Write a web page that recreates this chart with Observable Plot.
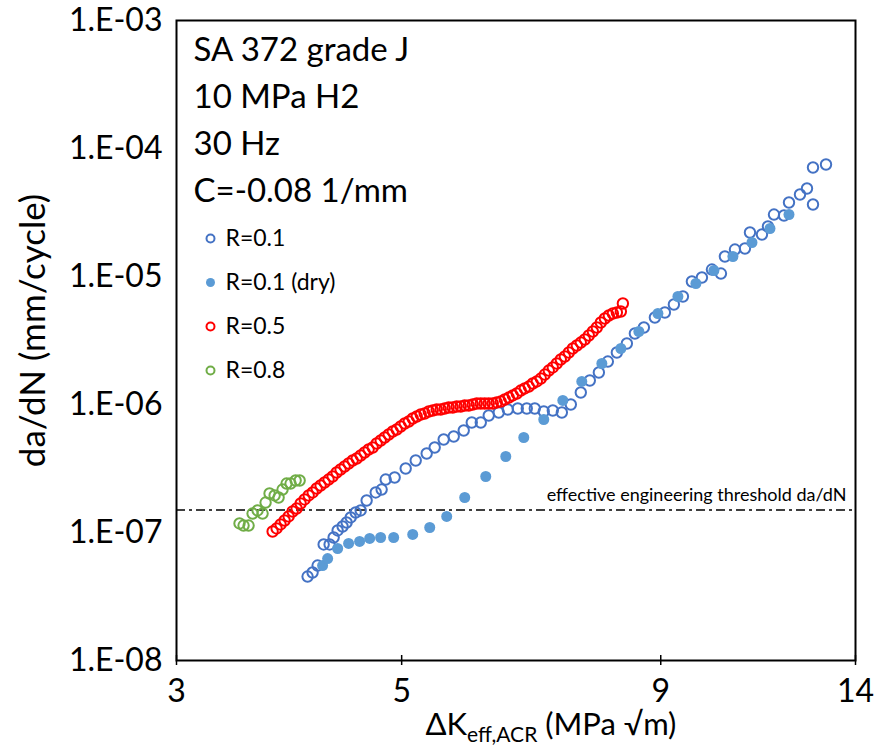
<!DOCTYPE html>
<html><head><meta charset="utf-8">
<script src="https://cdn.jsdelivr.net/npm/d3@7"></script>
<script src="https://cdn.jsdelivr.net/npm/@observablehq/plot@0.6"></script>
<style>body{margin:0;background:#fff;} svg{display:block}</style>
</head><body><div id="chart"></div>
<script>
// Axis ticks
const xTicks = [3, 5, 9, 14];
const yTicks = [1e-8, 1e-7, 1e-6, 1e-5, 1e-4, 1e-3];
const threshold = 1.5e-7;

// R=0.1 (open blue)
const r01K = [4.039,4.085,4.132,4.189,4.246,4.285,4.324,4.373,4.413,4.454,4.504,4.556,4.618,4.714,4.778,4.822,4.921,5.046,5.162,5.292,5.389,5.500,5.627,5.756,5.862,5.983,6.092,6.232,6.361,6.507,6.641,6.763,6.902,7.045,7.191,7.339,7.507,7.662,7.821,7.982,8.147,8.334,8.487,8.662,8.881,9.085,9.272,9.464,9.659,9.881,10.108,10.317,10.410,10.650,10.894,11.019,11.323,11.478,11.636,11.903,12.039,12.343,12.541,12.713,12.713,13.094];
const r01Rate = [4.53e-8,4.87e-8,5.52e-8,8.06e-8,8.06e-8,9.14e-8,1.037e-7,1.114e-7,1.197e-7,1.310e-7,1.433e-7,1.486e-7,1.778e-7,2.054e-7,2.167e-7,2.594e-7,2.690e-7,3.162e-7,3.652e-7,4.142e-7,4.614e-7,5.328e-7,5.623e-7,6.264e-7,7.234e-7,7.234e-7,8.205e-7,8.660e-7,9.140e-7,9.306e-7,9.306e-7,9.306e-7,8.817e-7,8.977e-7,8.660e-7,1.000e-6,1.241e-6,1.540e-6,1.778e-6,2.167e-6,2.548e-6,2.996e-6,3.587e-6,3.995e-6,4.783e-6,5.233e-6,6.043e-6,6.978e-6,9.140e-6,9.822e-6,1.134e-5,1.055e-5,1.433e-5,1.625e-5,1.655e-5,2.207e-5,2.129e-5,2.458e-5,3.050e-5,2.996e-5,3.785e-5,4.371e-5,4.870e-5,3.652e-5,7.105e-5,7.499e-5];

// R=0.1 (dry) (filled blue)
const dryK = [4.179,4.227,4.324,4.433,4.545,4.650,4.767,4.910,5.127,5.329,5.538,5.769,6.051,6.332,6.596,6.902,7.207,7.524,7.874,8.221,8.564,8.942,9.357,9.747,10.154,10.601,11.069,11.531,12.039];
const dryRate = [5.52e-8,6.26e-8,7.50e-8,8.21e-8,8.51e-8,8.98e-8,9.14e-8,9.14e-8,9.65e-8,1.094e-7,1.334e-7,1.877e-7,2.738e-7,3.924e-7,5.523e-7,7.635e-7,1.075e-6,1.513e-6,2.091e-6,2.738e-6,3.718e-6,5.140e-6,6.978e-6,8.817e-6,1.114e-5,1.433e-5,1.843e-5,2.371e-5,3.050e-5];

// R=0.5 (open red)
const r05K = [3.731,3.765,3.799,3.834,3.869,3.904,3.940,3.976,4.012,4.049,4.086,4.123,4.160,4.198,4.236,4.275,4.314,4.353,4.393,4.433,4.474,4.515,4.556,4.597,4.639,4.682,4.724,4.768,4.811,4.855,4.900,4.944,4.989,5.035,5.081,5.127,5.174,5.221,5.268,5.317,5.365,5.414,5.463,5.513,5.563,5.614,5.665,5.717,5.769,5.822,5.875,5.929,5.983,6.037,6.092,6.148,6.204,6.261,6.318,6.376,6.434,6.492,6.551,6.611,6.672,6.732,6.794,6.856,6.918,6.981,7.045,7.109,7.174,7.240,7.306,7.372,7.440,7.507,7.576,7.645,7.715,7.785,7.856,7.928,8.000,8.073,8.147,8.221,8.259];
const r05Rate = [1.018e-7,1.075e-7,1.155e-7,1.241e-7,1.334e-7,1.459e-7,1.540e-7,1.685e-7,1.811e-7,1.946e-7,2.054e-7,2.207e-7,2.329e-7,2.458e-7,2.594e-7,2.738e-7,2.943e-7,3.106e-7,3.278e-7,3.460e-7,3.652e-7,3.785e-7,3.995e-7,4.217e-7,4.451e-7,4.614e-7,4.958e-7,5.233e-7,5.523e-7,5.829e-7,6.153e-7,6.378e-7,6.731e-7,7.105e-7,7.365e-7,7.774e-7,8.058e-7,8.354e-7,8.505e-7,8.817e-7,8.977e-7,9.140e-7,9.140e-7,9.306e-7,9.475e-7,9.475e-7,9.647e-7,9.647e-7,9.822e-7,9.822e-7,1.000e-6,1.018e-6,1.018e-6,1.018e-6,1.018e-6,1.018e-6,1.037e-6,1.055e-6,1.094e-6,1.134e-6,1.176e-6,1.219e-6,1.286e-6,1.334e-6,1.382e-6,1.459e-6,1.513e-6,1.596e-6,1.715e-6,1.843e-6,1.946e-6,2.091e-6,2.247e-6,2.371e-6,2.548e-6,2.738e-6,2.890e-6,3.050e-6,3.220e-6,3.460e-6,3.718e-6,3.995e-6,4.371e-6,4.697e-6,4.958e-6,5.140e-6,5.233e-6,5.328e-6,6.153e-6];

// R=0.8 (open green)
const r08K = [3.461,3.493,3.533,3.565,3.606,3.647,3.672,3.705,3.748,3.782,3.816,3.851,3.886,3.931,3.967];
const r08Rate = [1.176e-7,1.134e-7,1.134e-7,1.407e-7,1.486e-7,1.407e-7,1.715e-7,2.017e-7,1.946e-7,1.877e-7,2.167e-7,2.414e-7,2.414e-7,2.548e-7,2.548e-7];

const seriesNames = ["R=0.1", "R=0.1 (dry)", "R=0.5", "R=0.8"];
const seriesColors = ["#4472C4", "#5B9BD5", "#FF0000", "#70AD47"];
const seriesFilled = [false, true, false, false];
const seriesK = [r01K, dryK, r05K, r08K];
const seriesRate = [r01Rate, dryRate, r05Rate, r08Rate];

const infoLines = ["SA 372 grade J", "10 MPa H2", "30 Hz", "C=-0.08 1/mm"];
const thresholdLabel = "effective engineering threshold da/dN";
const yTitle = "da/dN (mm/cycle)";

const FONT = "Lato, 'Open Sans', sans-serif";
const fmtY = d => "1.E-" + String(-Math.round(Math.log10(d))).padStart(2, "0");

const marks = [];
// threshold
marks.push(Plot.ruleY([threshold], {stroke: "#000", strokeWidth: 1.5, strokeDasharray: "9,4,3,4"}));
marks.push(Plot.text([thresholdLabel], {y: () => threshold, frameAnchor: "right", textAnchor: "end", dx: -9, dy: -15, fontSize: 18, fill: "#000"}));

// data series
seriesNames.forEach((name, i) => {
  const data = seriesK[i].map((k, j) => ({k, rate: seriesRate[i][j]}));
  const filled = seriesFilled[i];
  marks.push(Plot.dot(data, {
    x: "k", y: "rate",
    r: filled ? 5.5 : 5.2,
    fill: filled ? seriesColors[i] : "none",
    stroke: filled ? "none" : seriesColors[i],
    strokeWidth: 2
  }));
});

// legend
seriesNames.forEach((name, i) => {
  const filled = seriesFilled[i];
  marks.push(Plot.dot([name], {
    frameAnchor: "top-left", dx: 34, dy: 218 + i * 44,
    r: filled ? 4.5 : 4,
    fill: filled ? seriesColors[i] : "none",
    stroke: filled ? "none" : seriesColors[i],
    strokeWidth: 2
  }));
  marks.push(Plot.text([name], {
    frameAnchor: "top-left", dx: 49, dy: 218 + i * 44,
    textAnchor: "start", lineAnchor: "middle", fontSize: 23, fill: "#000"
  }));
});

// info block
marks.push(Plot.text([infoLines.join("\n")], {
  frameAnchor: "top-left", dx: 17, dy: 7, textAnchor: "start", lineAnchor: "top",
  lineHeight: 1.424, fontSize: 33, fill: "#000"
}));

// axes
marks.push(Plot.axisY(yTicks, {anchor: "left", tickSize: 0, tickPadding: 14, tickFormat: fmtY, fontSize: 32, label: null}));
marks.push(Plot.axisX(xTicks, {anchor: "bottom", tickSize: 0, tickPadding: 19, tickFormat: d => String(d), fontSize: 32, label: null}));
marks.push(Plot.axisX(xTicks, {anchor: "bottom", tickSize: 10, dy: -5, tickFormat: () => "", label: null, strokeWidth: 1.5}));

// axis titles
marks.push(Plot.text([yTitle], {frameAnchor: "left", dx: -143, dy: -10, rotate: -90, textAnchor: "middle", lineAnchor: "middle", fontSize: 35, fill: "#000"}));
marks.push(Plot.text(["XTITLE"], {frameAnchor: "bottom-left", dx: 249, dy: 65, textAnchor: "start", lineAnchor: "middle", fontSize: 31, fill: "#000"}));

marks.push(Plot.frame({stroke: "#000", strokeWidth: 2}));

const chart = Plot.plot({
  width: 874, height: 749,
  marginLeft: 176, marginRight: 19, marginTop: 20, marginBottom: 89,
  style: {fontFamily: FONT, color: "#000", background: "#fff", overflow: "visible"},
  x: {type: "log", domain: [3, 14]},
  y: {type: "log", domain: [1e-8, 1e-3]},
  marks
});
document.getElementById("chart").appendChild(chart);

// x-axis title with subscript
d3.select(chart).selectAll("text").filter(function() { return this.textContent === "XTITLE"; })
  .each(function() {
    const t = d3.select(this);
    t.text(null);
    t.append("tspan").text("ΔK");
    t.append("tspan").attr("dy", 7).attr("font-size", 21).text("eff,ACR");
    t.append("tspan").attr("dy", -7).text(" (MPa √m)");
  });
</script>
</body></html>
